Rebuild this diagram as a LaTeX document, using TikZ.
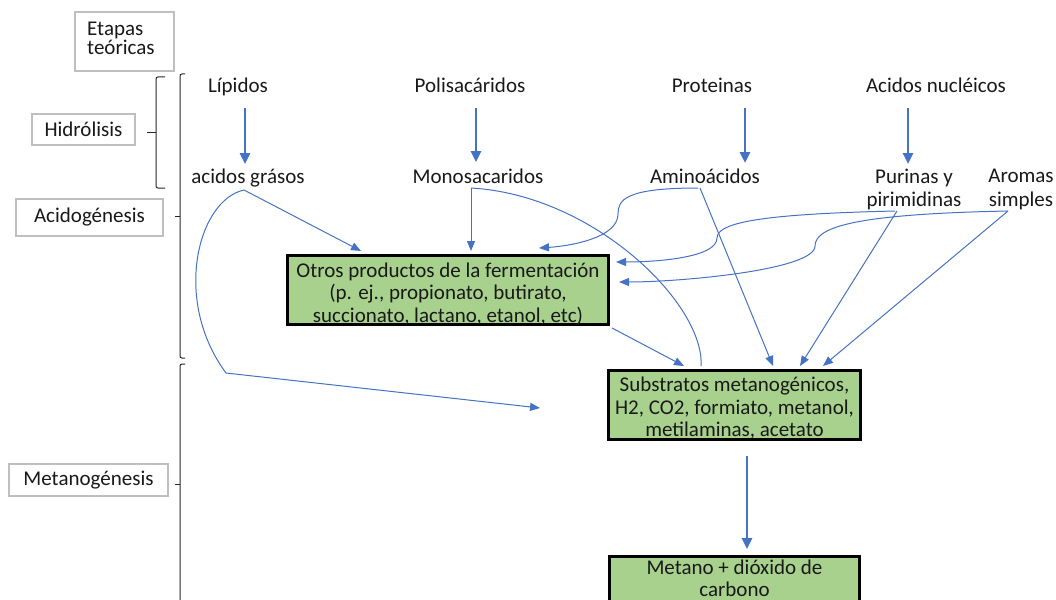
\documentclass[tikz,border=0pt]{standalone}
\usepackage{fontspec}
\setmainfont{Carlito}
\usetikzlibrary{arrows.meta}
\definecolor{lblue}{HTML}{4472C4}
\definecolor{lgreen}{HTML}{A9D18E}
\newcommand{\myfs}{\fontsize{21}{23.5}\selectfont}
\newcommand{\boxfs}{\fontsize{21}{22.5}\selectfont}
\begin{document}
\begin{tikzpicture}[x=1pt,y=-1pt,
  lbl/.style={inner sep=0pt, font=\myfs, align=center, text=black!90},
  boxtxt/.style={inner sep=0pt, font=\boxfs, align=center, text=black!90},
  stagebox/.style={draw=black!25, line width=1.2pt, inner sep=0pt, font=\myfs, align=center, text=black!90},
  greenbox/.style={draw=black, line width=3pt, fill=lgreen, inner sep=0pt},
  bigarrow/.style={draw=lblue, line width=2.5pt, -{Triangle[length=11pt,width=10pt]}},
  conn/.style={draw=lblue, line width=1pt, -{Triangle[length=10pt,width=8pt]}},
  plainconn/.style={draw=lblue, line width=1pt},
  brk/.style={draw=black!85, line width=1pt}
]
\useasboundingbox (0,0) rectangle (1056,599);

% stage label boxes
\node[stagebox, minimum width=99pt, minimum height=59pt] (etapas) at (124.5,41.5) {};
\node[lbl, align=left, font=\fontsize{21}{19.5}\selectfont, anchor=west] (etapastxt) at (87,38.5) {Etapas\\teóricas};
\node[stagebox, minimum width=103pt, minimum height=31pt] (hidro) at (83.5,129.5) {Hidrólisis};
\node[stagebox, minimum width=147pt, minimum height=37pt] (acido) at (89.5,217.5) {Acidogénesis};
\node[stagebox, minimum width=159pt, minimum height=32pt] (metano-st) at (88.5,480) {Metanogénesis};

% brackets
\draw[brk] (165,77) -- (158,77) to[out=180,in=90] (156,79) -- (156,186) to[out=-90,in=180] (158,188) -- (165,188);
\draw[brk] (147,132) -- (156,132);
\draw[brk] (185,74) -- (182,74) to[out=180,in=90] (180,76) -- (180,356) to[out=-90,in=180] (182,358) -- (185,358);
\draw[brk] (175,216) -- (180,216);
\draw[brk] (185,364) -- (182,364) to[out=180,in=90] (180,366) -- (180,610);
\draw[brk] (175,484) -- (180,484);

% labels
\node[lbl, anchor=base] (lip) at (238,93) {Lípidos};
\node[lbl, anchor=base] (poli) at (470,93) {Polisacáridos};
\node[lbl, anchor=base] (prot) at (712,93) {Proteinas};
\node[lbl, anchor=base] (acn) at (936,93) {Acidos nucléicos};
\node[lbl, anchor=base] (ag) at (248,183) {acidos grásos};
\node[lbl, anchor=base] (mono) at (478,183) {Monosacaridos};
\node[lbl, anchor=base] (amino) at (705,183) {Aminoácidos};
\node[lbl] (pur) at (914,189.5) {Purinas y\\pirimidinas};
\node[lbl] (aro) at (1021,189.5) {Aromas\\simples};

% green boxes
\node[greenbox, minimum width=321pt, minimum height=69pt] (otros) at (448,290) {};
\node[boxtxt] (otrostxt) at (448,294)
  {Otros productos de la fermentación\\(p. ej., propionato, butirato,\\succionato, lactano, etanol, etc)};
\node[greenbox, minimum width=252pt, minimum height=69pt] (subs) at (734.5,405) {};
\node[boxtxt] (substxt) at (734.5,408.5)
  {Substratos metanogénicos,\\H2, CO2, formiato, metanol,\\metilaminas, acetato};
\node[greenbox, minimum width=250pt, minimum height=69pt] (met) at (734.5,591) {};
\node[boxtxt] (mettxt) at (734.5,578.5) {Metano + dióxido de\\carbono};

% connector end points
\coordinate (lipA) at (245,108);  \coordinate (lipB) at (245,164);
\coordinate (poliA) at (476,108); \coordinate (poliB) at (476,162);
\coordinate (protA) at (745,108); \coordinate (protB) at (745,163);
\coordinate (acnA) at (908,108);  \coordinate (acnB) at (908,164);
\coordinate (agS) at (244,190);
\coordinate (monoS) at (471,188);
\coordinate (aminoS) at (698,188);
\coordinate (purS) at (895,211);
\coordinate (aroS) at (1008,211);
\coordinate (agEnd) at (540,408);
\coordinate (monoEnd) at (701,366);
\coordinate (subsA) at (747,456);
\coordinate (metB) at (747,549);

% thick arrows
\draw[bigarrow] (lipA) -- (lipB);
\draw[bigarrow] (poliA) -- (poliB);
\draw[bigarrow] (protA) -- (protB);
\draw[bigarrow] (acnA) -- (acnB);
\draw[bigarrow] (subsA) -- (metB);

% thin connectors
\draw[conn] (agS) -- (361,251);
\draw[conn] (agS) .. controls (198,200) and (172,300) .. (226,373) -- (agEnd);
\draw[conn] (monoS) -- (471,251);
\draw[plainconn] (monoS) .. controls (595,195) and (705,305) .. (monoEnd);
\draw[conn] (aminoS) .. controls (625,188) and (618,200) .. (618,214) .. controls (618,238) and (570,246) .. (539,248);
\draw[conn] (700,188) -- (773,366);
\draw[conn] (purS) .. controls (765,214) and (717,222) .. (717,238) .. controls (717,258) and (655,262) .. (616,262);
\draw[conn] (897,211) -- (800,366);
\draw[conn] (aroS) .. controls (860,214) and (815,226) .. (815,246) .. controls (815,270) and (680,282) .. (619,282);
\draw[conn] (aroS) -- (823,366);
\draw[conn] (612,328) -- (684,366);
\end{tikzpicture}
\end{document}
